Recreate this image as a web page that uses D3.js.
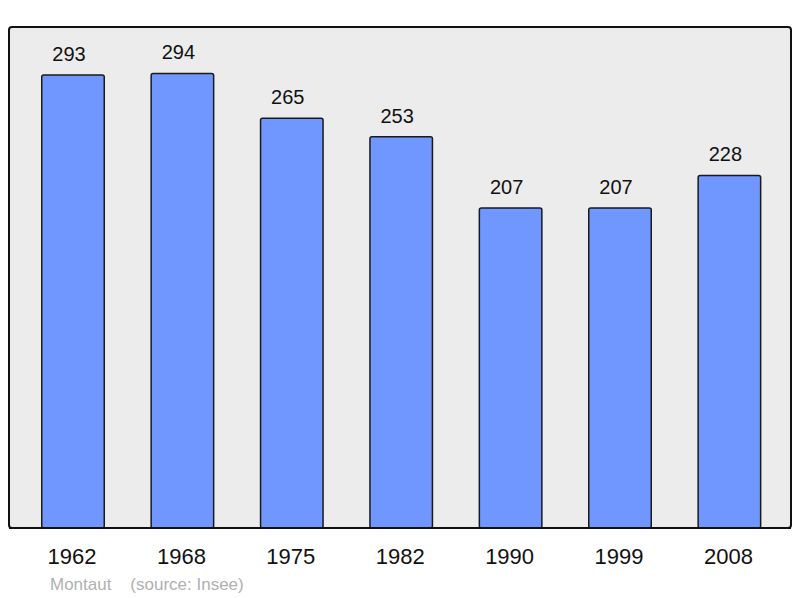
<!DOCTYPE html>
<html><head><meta charset="utf-8">
<script src="https://cdn.jsdelivr.net/npm/d3@7"></script>
<style>body{margin:0;background:#fff}svg{display:block}</style>
</head><body>
<script>
const years = ["1962","1968","1975","1982","1990","1999","2008"];
const population = [293,294,265,253,207,207,228];
const sourceLabel = "Montaut    (source: Insee)";

const W = 800, H = 598;
const svg = d3.select("body").append("svg").attr("width", W).attr("height", H);
const panel = {x0: 9, y0: 27, x1: 791, y1: 528};
const font = "Liberation Sans, Arial, sans-serif";

svg.append("rect").attr("x", panel.x0).attr("y", panel.y0)
  .attr("width", panel.x1 - panel.x0).attr("height", panel.y1 - panel.y0)
  .attr("rx", 3).attr("fill", "#ececec").attr("stroke", "#111").attr("stroke-width", 2);

const xc = d3.scaleBand().domain(years).range([18.3, 784.1]);
const bw = 62.5;
const y = d3.scaleLinear().domain([0, d3.max(population) * 1.1]).range([panel.y1, panel.y0 + 1]);

const g = svg.append("g");
g.selectAll("rect.bar").data(years).join("rect").attr("class", "bar")
  .attr("x", d => xc(d) + xc.bandwidth() / 2 - bw / 2)
  .attr("width", bw)
  .attr("y", (d, i) => y(population[i]))
  .attr("height", (d, i) => panel.y1 - y(population[i]))
  .attr("rx", 2)
  .attr("fill", "#7096ff").attr("stroke", "#1a1a1a").attr("stroke-width", 1.5);

g.selectAll("text.val").data(years).join("text").attr("class", "val")
  .attr("x", d => xc(d) + xc.bandwidth() / 2 - 4)
  .attr("y", (d, i) => y(population[i]) - 14)
  .attr("text-anchor", "middle")
  .attr("font-family", font).attr("font-size", 20)
  .attr("fill", "#111")
  .text((d, i) => population[i]);

svg.append("line").attr("x1", panel.x0).attr("x2", panel.x1).attr("y1", panel.y1).attr("y2", panel.y1)
  .attr("stroke", "#111").attr("stroke-width", 2);

const axis = d3.axisBottom(xc).tickSize(0).tickPadding(0);
const ax = svg.append("g").attr("transform", `translate(-1,${panel.y1})`).call(axis);
ax.select(".domain").remove();
ax.selectAll("text").attr("y", 36).attr("dy", 0)
  .attr("font-family", font).attr("font-size", 22).attr("fill", "#111");

svg.append("text").attr("x", 50).attr("y", 590)
  .attr("font-family", font).attr("font-size", 17)
  .attr("fill", "#b0b0b0").attr("xml:space", "preserve").style("white-space", "pre")
  .text(sourceLabel);
</script>
</body></html>
